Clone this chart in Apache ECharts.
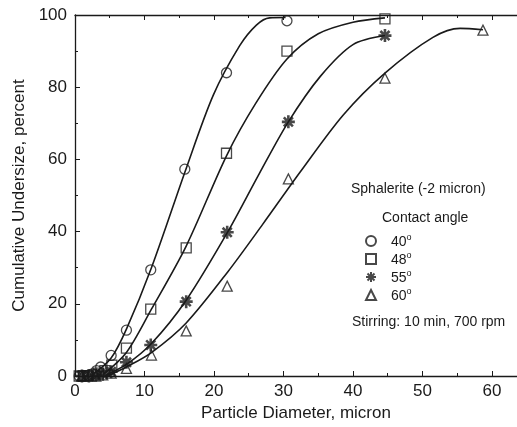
<!DOCTYPE html>
<html>
<head>
<meta charset="utf-8">
<script src="https://cdn.jsdelivr.net/npm/echarts@6/dist/echarts.min.js"></script>
<style>html,body{margin:0;padding:0;background:#fff}#c{width:517px;height:427px}</style>
</head>
<body>
<div id="c"></div>
<script>
// Measured points (particle diameter, cumulative undersize %)
var angle40 = [[0.6,0],[1.2,0.1],[1.8,0.2],[2.5,0.6],[3.1,1.5],[3.7,2.5],[5.2,5.7],[7.4,12.7],[10.9,29.4],[15.8,57.3],[21.8,84.0],[30.5,98.4]];
var angle48 = [[0.6,0],[1.2,0],[1.8,0.1],[2.6,0.3],[3.4,0.8],[4.3,1.5],[5.3,3.0],[7.4,7.7],[10.9,18.5],[16.0,35.5],[21.8,61.7],[30.5,90.0],[44.6,98.9]];
var angle55 = [[1.0,0],[2.0,0],[3.0,0.2],[4.0,0.5],[5.2,1.2],[7.4,3.8],[10.9,8.6],[16.0,20.6],[21.9,39.8],[30.7,70.4],[44.6,94.3]];
var angle60 = [[1.0,0],[2.0,0],[3.0,0],[4.0,0.3],[5.2,0.8],[7.4,2.1],[11.0,5.8],[16.0,12.5],[21.9,24.9],[30.7,54.6],[44.6,82.5],[58.7,95.8]];

// Fitted curves
var curve40 = [[2.5,0.3],[5.2,5],[7.4,13],[11,30],[16,57.5],[19.9,77.8],[23.7,91.5],[26.1,97.2],[28,99.2],[30.3,99.3]];
var curve48 = [[4.0,0.3],[7.4,6.5],[11,18.5],[16,36],[21.8,61],[26,75.5],[30.5,87.8],[35,94.8],[40,98],[44.6,99.2]];
var curve55 = [[4.5,0.3],[7.4,3.2],[11,9],[16,21],[22,40],[26.5,56],[30.7,70.4],[35.3,83],[40,91.8],[44.6,94.3]];
var curve60 = [[5.0,0.3],[7.4,2.5],[11,6.5],[16,14.7],[22,28.9],[27,42],[32.4,56.5],[38.6,72.3],[44.6,83.9],[51.5,93.8],[55.4,96.3],[58.7,95.9]];

var seriesNames = ['40°','48°','55°','60°'];
var xTicks = {min:0, max:63.6, interval:10};
var yTicks = {min:0, max:100, interval:20};

var starPath = 'path://M-2,-10L2,-10L2,10L-2,10Z M-10,-2L10,-2L10,2L-10,2Z M-8.4,-5.6L-5.6,-8.4L8.4,5.6L5.6,8.4Z M5.6,-8.4L8.4,-5.6L-5.6,8.4L-8.4,5.6Z';

var ink = '#1a1a1a';
var font = 'Liberation Sans, Arial, Helvetica, sans-serif';

function curve(data){
  return {type:'line', data:data, smooth:0.3, showSymbol:false, symbol:'none',
    lineStyle:{color:ink, width:1.6}, silent:true, z:2, xAxisIndex:0, yAxisIndex:0};
}
function marks(name, data, symbol, size, filled){
  return {type:'scatter', name:name, data:data, symbol:symbol, symbolSize:size, z:3,
    itemStyle: filled ? {color:ink, borderWidth:0} : {color:'rgba(255,255,255,0)', borderColor:ink, borderWidth:1.3},
    xAxisIndex:0, yAxisIndex:0};
}

var axisCommon = {
  axisLine:{show:true, onZero:false, lineStyle:{color:ink, width:1.3}},
  axisTick:{show:true, inside:true, length:5, lineStyle:{color:ink, width:1}},
  minorTick:{show:true, splitNumber:2, length:3, lineStyle:{color:ink, width:1}},
  splitLine:{show:false}
};

var chart = echarts.init(document.getElementById('c'), null, {renderer:'canvas'});
chart.setOption({
  animation:false,
  backgroundColor:'#fff',
  textStyle:{fontFamily:font},
  grid:{left:75, right:0, top:15, bottom:51, containLabel:false},
  xAxis:[
    Object.assign({type:'value', position:'bottom', min:xTicks.min, max:xTicks.max, interval:xTicks.interval,
      name:'Particle Diameter, micron', nameLocation:'middle', nameGap:26,
      nameTextStyle:{fontSize:17, color:ink, fontFamily:font},
      axisLabel:{fontSize:17, color:ink, margin:7, showMaxLabel:false, fontFamily:font}}, axisCommon),
    Object.assign({type:'value', position:'top', min:xTicks.min, max:xTicks.max, interval:xTicks.interval,
      axisLabel:{show:false}}, axisCommon)
  ],
  yAxis:[
    Object.assign({type:'value', min:yTicks.min, max:yTicks.max, interval:yTicks.interval,
      name:'Cumulative Undersize, percent', nameLocation:'middle', nameGap:42,
      nameTextStyle:{fontSize:17, color:ink, fontFamily:font},
      axisLabel:{fontSize:17, color:ink, margin:8, fontFamily:font}}, axisCommon)
  ],
  legend:{
    orient:'vertical', left:360, top:228, itemWidth:10, itemHeight:10, itemGap:2,
    data:seriesNames,
    formatter:function(n){ return '{n|' + n.replace('°','') + '}{s|o}'; },
    textStyle:{color:ink, fontFamily:font, padding:[0,0,0,10],
      rich:{n:{fontSize:14, lineHeight:16, verticalAlign:'bottom', fontFamily:font, color:ink},
            s:{fontSize:9, lineHeight:9, verticalAlign:'top', fontFamily:font, color:ink}}}
  },
  graphic:[
    {type:'text', left:351, top:182, style:{text:'Sphalerite (-2 micron)', font:'14px ' + font, fill:ink}},
    {type:'text', left:382, top:211, style:{text:'Contact angle', font:'14px ' + font, fill:ink}},
    {type:'text', left:352, top:315, style:{text:'Stirring: 10 min, 700 rpm', font:'14px ' + font, fill:ink}}
  ],
  series:[
    curve(curve40), curve(curve48), curve(curve55), curve(curve60),
    marks(seriesNames[0], angle40, 'circle', 10, false),
    marks(seriesNames[1], angle48, 'rect', 10, false),
    marks(seriesNames[2], angle55, starPath, 13, true),
    marks(seriesNames[3], angle60, 'triangle', 10, false)
  ]
});
</script>
</body>
</html>
